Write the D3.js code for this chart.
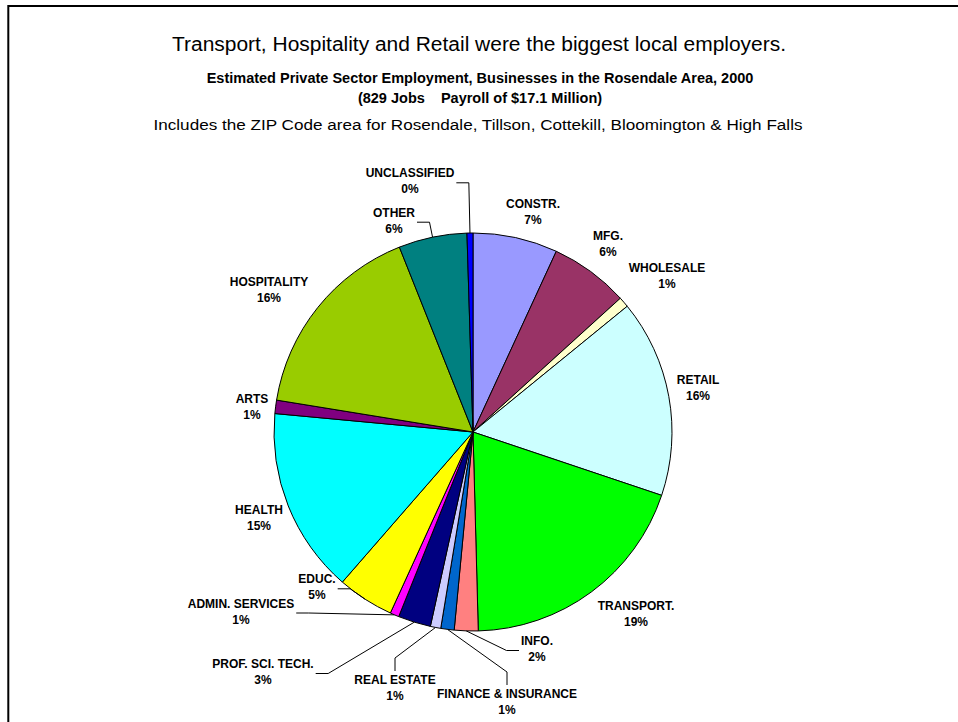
<!DOCTYPE html>
<html>
<head>
<meta charset="utf-8">
<script src="https://cdn.jsdelivr.net/npm/d3@7"></script>
<style>
  html, body { margin: 0; padding: 0; background: #fff; }
  svg { display: block; font-family: "Liberation Sans", Arial, Helvetica, sans-serif; }
</style>
</head>
<body>
<svg id="chart" width="958" height="722"></svg>
<script>
// Private sector employment by industry, Rosendale area, 2000 (jobs, 829 total)
const categories = ["CONSTR.", "MFG.", "WHOLESALE", "RETAIL", "TRANSPORT.", "INFO.",
  "FINANCE & INSURANCE", "REAL ESTATE", "PROF. SCI. TECH.", "ADMIN. SERVICES", "EDUC.",
  "HEALTH", "ARTS", "HOSPITALITY", "OTHER", "UNCLASSIFIED"];
const jobs = [57, 53, 7, 133, 161, 16, 9, 7, 22, 6, 38, 125, 9, 136, 46, 4];

const headline = "Transport, Hospitality and Retail were the biggest local employers.";
const subtitleLines = [
  "Estimated Private Sector Employment, Businesses in the Rosendale Area, 2000",
  "(829 Jobs    Payroll of $17.1 Million)"
];
const note = "Includes the ZIP Code area for Rosendale, Tillson, Cottekill, Bloomington & High Falls";

// Slice fills, in category order
const sliceColors = ["#9999FF", "#993366", "#FFFFCC", "#CCFFFF", "#00FF00", "#FF8080",
  "#0066CC", "#CCCCFF", "#000080", "#FF00FF", "#FFFF00", "#00FFFF", "#800080",
  "#99CC00", "#008080", "#0000FF"];

// Label block centres relative to the pie centre, and how each leader line attaches
const labelOffsets = [[60, -219], [135, -187], [194, -155], [225, -43], [163, 183],
  [64, 218], [34, 271], [-78, 257], [-210, 241], [-232, 180.5], [-156, 156.3],
  [-214, 87], [-221, -24], [-204, -141], [-79, -210.3], [-63, -249.7]];
const leaderKinds = [null, null, null, null, null, "h", "v", "v", "h", "h", "h",
  null, null, null, "h", "h"];

const W = 958, H = 722;
const cx = 473, cy = 432, R = 199;
const svg = d3.select("#chart");

// Outer frame
svg.append("rect")
  .attr("x", 8.3).attr("y", 6).attr("width", 1000).attr("height", 1000)
  .attr("fill", "none").attr("stroke", "#000").attr("stroke-width", 2);

// Titles
svg.append("text").attr("x", 479).attr("y", 46)
  .attr("text-anchor", "middle").attr("dominant-baseline", "middle")
  .attr("font-size", 20).attr("fill", "#000")
  .attr("textLength", 614).attr("lengthAdjust", "spacingAndGlyphs")
  .text(headline);
subtitleLines.forEach((t, i) => {
  svg.append("text").attr("x", 480).attr("y", 79 + i * 20)
    .attr("text-anchor", "middle").attr("dominant-baseline", "middle")
    .attr("font-size", 14.5).attr("font-weight", "bold").attr("fill", "#000")
    .attr("xml:space", "preserve").style("white-space", "pre").text(t);
});
svg.append("text").attr("x", 478).attr("y", 126)
  .attr("text-anchor", "middle").attr("dominant-baseline", "middle")
  .attr("font-size", 14).attr("fill", "#000")
  .attr("textLength", 649).attr("lengthAdjust", "spacingAndGlyphs")
  .text(note);

// Pie
const data = categories.map((c, i) => ({ name: c, jobs: jobs[i], color: sliceColors[i],
  off: labelOffsets[i], leader: leaderKinds[i] }));
const total = d3.sum(jobs);
const pie = d3.pie().sort(null).value(d => d.jobs).startAngle(0).endAngle(2 * Math.PI);
const arc = d3.arc().innerRadius(0).outerRadius(R);
const arcs = pie(data);

const g = svg.append("g").attr("transform", `translate(${cx},${cy})`);
g.selectAll("path.slice").data(arcs).join("path")
  .attr("class", "slice")
  .attr("d", arc)
  .attr("fill", d => d.data.color)
  .attr("stroke", "#000").attr("stroke-width", 1).attr("stroke-linejoin", "round");

// Labels: name on the first line, rounded share on the second
const labels = g.selectAll("g.lbl").data(arcs).join("g").attr("class", "lbl")
  .attr("transform", d => `translate(${d.data.off[0]},${d.data.off[1]})`);
labels.append("text").attr("class", "nm").attr("y", -8)
  .attr("text-anchor", "middle").attr("dominant-baseline", "middle")
  .attr("font-size", 12).attr("font-weight", "bold").attr("fill", "#000")
  .text(d => d.data.name);
labels.append("text").attr("class", "pc").attr("y", 8)
  .attr("text-anchor", "middle").attr("dominant-baseline", "middle")
  .attr("font-size", 12).attr("font-weight", "bold").attr("fill", "#000")
  .text(d => Math.round(d.data.jobs / total * 100) + "%");

// Leader lines from the slice rim to the label
labels.each(function (d) {
  if (!d.data.leader) return;
  const sel = d3.select(this);
  const halfW = Math.max(sel.select("text.nm").node().getComputedTextLength(),
    sel.select("text.pc").node().getComputedTextLength()) / 2;
  const mid = (d.startAngle + d.endAngle) / 2;
  const rim = [R * Math.sin(mid), -R * Math.cos(mid)];
  const [lx, ly] = d.data.off;
  let end, elbow;
  if (d.data.leader === "h") {
    const side = lx < 0 ? 1 : -1;
    end = [lx + side * (halfW + 2), ly + 0.5];
    elbow = [end[0] + side * 12.5, end[1]];
  } else {
    end = [lx, ly - 18];
    elbow = [lx, end[1] - 13];
  }
  g.insert("path", "g.lbl")
    .attr("d", d3.line()([rim, elbow, end]))
    .attr("fill", "none").attr("stroke", "#000").attr("stroke-width", 1);
});
</script>
</body>
</html>
